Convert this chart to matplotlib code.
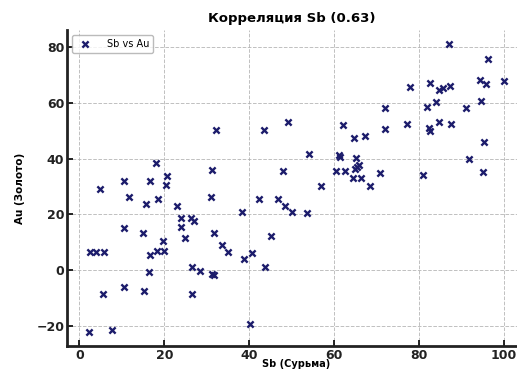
import matplotlib
matplotlib.use("Agg")
import matplotlib.pyplot as plt

# --- Data (Sb vs Au) ---
sb = [
    18.0, 31.3, 20.7, 10.5, 16.7, 20.4, 4.8, 11.6, 18.5, 15.6, 30.9, 22.9,
    42.2, 38.2, 24.0, 26.3, 27.1, 24.0, 10.5, 14.9, 31.8, 24.9, 19.7, 33.5,
    34.9, 2.5, 4.0, 5.9, 18.3, 19.9, 16.6, 38.7, 40.7, 16.3, 26.6, 28.5,
    31.2, 31.6, 10.6, 15.2, 5.5, 26.6, 2.2, 7.6, 40.1,
    72.0, 49.2, 43.4, 62.1, 72.0, 67.2, 64.6, 54.1, 61.1, 61.3, 65.2, 48.0,
    60.4, 62.5, 64.8, 65.8, 65.3, 70.7, 64.4, 66.2, 68.4, 56.9, 46.7, 48.3,
    50.0, 53.5, 45.1, 43.7,
    86.9, 96.1, 77.8, 82.6, 84.7, 85.6, 87.2, 94.2, 95.8, 99.9, 81.8, 83.9,
    91.1, 94.5, 77.1, 82.2, 82.5, 84.7, 87.5, 95.2, 91.7, 80.8, 95.0,
    32.1,
]
au = [
    38.6, 36.0, 33.7, 32.0, 31.9, 30.7, 29.3, 26.4, 25.5, 23.7, 26.4, 23.0,
    25.6, 20.9, 18.6, 18.6, 17.6, 15.6, 15.0, 13.2, 13.2, 11.6, 10.5, 9.0,
    6.4, 6.6, 6.6, 6.6, 6.8, 6.8, 5.4, 4.0, 6.0, -0.6, 1.0, -0.4,
    -1.2, -1.9, -6.2, -7.4, -8.6, -8.6, -22.2, -21.3, -19.2,
    58.3, 53.2, 50.4, 52.2, 50.8, 48.2, 47.4, 41.7, 41.3, 40.8, 40.2, 35.7,
    35.6, 35.7, 36.4, 37.6, 37.0, 34.8, 33.0, 33.2, 30.1, 30.1, 25.7, 23.0,
    21.0, 20.6, 12.3, 1.2,
    81.3, 75.8, 65.9, 67.1, 64.7, 65.5, 66.2, 68.1, 66.7, 67.9, 58.5, 60.2,
    58.3, 60.7, 52.3, 51.1, 49.9, 53.2, 52.3, 46.0, 40.0, 34.1, 35.3,
    50.4,
]
corr_label = "0.63"
x_ticks = [0, 20, 40, 60, 80, 100]
y_ticks = [-20, 0, 20, 40, 60, 80]

fig = plt.figure(figsize=(5.17, 3.70), dpi=100)
ax = fig.add_axes([67 / 517, 24 / 370, 458 / 517, 316 / 370])

ax.scatter(sb, au, marker="x", s=20, linewidths=1.7, color="#1c1c6b", label="Sb vs Au", zorder=3)

ax.set_xlim(-2.9, 104.9)
ax.set_ylim(-27.2, 86.2)
ax.set_xticks(x_ticks)
ax.set_yticks(y_ticks)

ax.grid(True, color="#b0b0b0", linestyle="--", linewidth=0.7, alpha=0.8)
ax.set_axisbelow(True)

for side in ("top", "right"):
    ax.spines[side].set_visible(False)
for side in ("left", "bottom"):
    ax.spines[side].set_linewidth(2)
    ax.spines[side].set_color("#222222")

ax.tick_params(direction="in", length=4, width=1.2, labelsize=9, pad=2)
for lbl in ax.get_xticklabels() + ax.get_yticklabels():
    lbl.set_fontweight("bold")
    lbl.set_color("#222222")

ax.set_title(f"Корреляция Sb ({corr_label})", fontsize=9.5, fontweight="bold", pad=6, x=0.49)
ax.set_xlabel("Sb (Сурьма)", fontsize=7, fontweight="bold", labelpad=-2)
ax.set_ylabel("Au (Золото)", fontsize=7.5, fontweight="bold", labelpad=8)

leg = ax.legend(loc="upper left", fontsize=7, frameon=True, borderpad=0.4,
                handletextpad=1.2, bbox_to_anchor=(0.0, 1.0))
leg.get_frame().set_edgecolor("#aaaaaa")

fig.savefig("out.png", dpi=100)
